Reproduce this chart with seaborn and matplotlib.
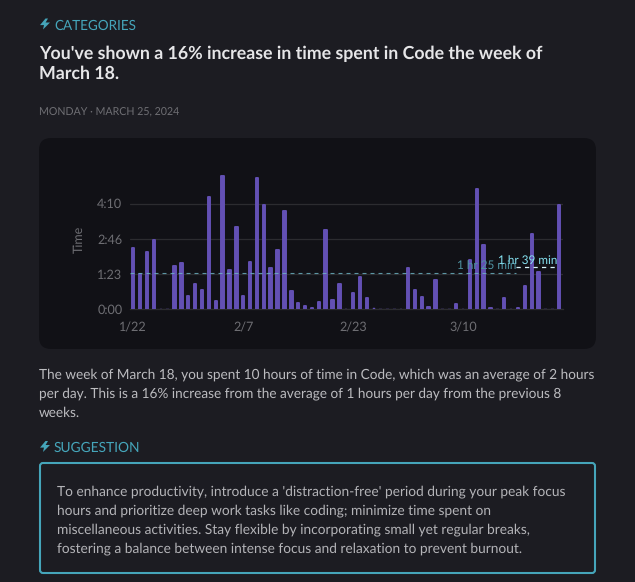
import matplotlib
matplotlib.use("Agg")
import matplotlib.pyplot as plt
import pandas as pd
import seaborn as sns
from matplotlib.patches import FancyBboxPatch, Polygon

# Daily minutes in Code, 1/22 through 3/24
minutes = [148, 85, 137, 167, 0, 0, 104, 111, 34, 62, 47, 269, 21, 317, 94, 196,
           32, 114, 312, 249, 99, 142, 235, 44, 16, 10, 4, 20, 189, 24, 62, 1,
           41, 79, 28, 2, 0, 1, 0, 0, 99, 47, 30, 6, 70, 0, 1, 15, 0, 118,
           286, 153, 5, 0, 29, 1, 4, 58, 179, 91, 0, 1, 250]
days = pd.date_range("2024-01-22", periods=len(minutes)).strftime("%-m/%-d").tolist()
date_labels = ["1/22", "2/7", "2/23", "3/10"]
y_ticks = [0, 83, 166, 250]
y_tick_labels = ["0:00", "1:23", "2:46", "4:10"]
avg_previous = 85
avg_current = 99
avg_previous_label = "1 hr 25 min"
avg_current_label = "1 hr 39 min"

eyebrow = "CATEGORIES"
headline = ["You've shown a 16% increase in time spent in Code the week of", "March 18."]
dateline = "MONDAY · MARCH 25, 2024"
body = ["The week of March 18, you spent 10 hours of time in Code, which was an average of 2 hours",
        "per day. This is a 16% increase from the average of 1 hours per day from the previous 8",
        "weeks."]
suggestion_title = "SUGGESTION"
suggestion = ["To enhance productivity, introduce a 'distraction-free' period during your peak focus",
              "hours and prioritize deep work tasks like coding; minimize time spent on",
              "miscellaneous activities. Stay flexible by incorporating small yet regular breaks,",
              "fostering a balance between intense focus and relaxation to prevent burnout."]

PAGE = "#1c1c22"
CARD = "#111116"
ACCENT = "#45a5ba"
MUTED = "#6e6e73"
BAR = "#6350b4"
W, H = 635, 582

sns.set_theme(style="dark")
plt.rcParams["font.family"] = ["Lato", "DejaVu Sans"]
plt.rcParams["text.hinting"] = "no_hinting"
plt.rcParams["text.hinting_factor"] = 8

fig = plt.figure(figsize=(W / 100, H / 100), dpi=100, facecolor=PAGE)

# Full-page layer measured in pixels, for the text and panels around the chart
page = fig.add_axes([0, 0, 1, 1], zorder=0)
page.set_xlim(0, W)
page.set_ylim(H, 0)
page.axis("off")


def px(size):
    return size * 0.72


def bolt(x, y, color=ACCENT):
    shape = [(5.5, 0), (0, 6.6), (4, 6.6), (3, 11), (10, 4), (5.6, 4), (8, 0)]
    page.add_patch(Polygon([(x + a, y + b) for a, b in shape], closed=True, fc=color, ec="none"))


bolt(40, 18.5)
page.text(54.5, 25, eyebrow, color=ACCENT, fontsize=px(13.5), va="center_baseline")
for y, line in zip((52, 72), headline):
    page.text(39, y, line, color="#e6e6e8", fontsize=px(17.7), fontweight="bold", va="center_baseline")
page.text(39, 111, dateline, color=MUTED, fontsize=px(10.6), va="center_baseline")

page.add_patch(FancyBboxPatch((47, 146), 541, 195, boxstyle="round,pad=8,rounding_size=12",
                              fc=CARD, ec="none"))

for y, line in zip((373.5, 392.5, 411.5), body):
    page.text(39, y, line, color="#bcbcc0", fontsize=px(13.63), va="center_baseline")

bolt(40, 441)
page.text(54, 447, suggestion_title, color=ACCENT, fontsize=px(13.75), va="center_baseline")
page.add_patch(FancyBboxPatch((43, 466), 549, 104, boxstyle="round,pad=3,rounding_size=3",
                              fc="none", ec=ACCENT, lw=1.5))
for y, line in zip((490.5, 509.5, 528.5, 547.5), suggestion):
    page.text(57, y, line, color="#b4b4b8", fontsize=px(13.8), va="center_baseline")

# Chart axes: 35 px per 83 minutes above the baseline at y=309
left, right, base = 130, 563, 309
y_max = 330
height = y_max * 35 / 83
ax = fig.add_axes([left / W, (H - base) / H, (right - left) / W, height / H], zorder=1)
ax.patch.set_alpha(0)

frame = pd.DataFrame({"day": days, "minutes": minutes})
sns.barplot(data=frame, x="day", y="minutes", color=BAR, saturation=1, width=0.35, ax=ax, zorder=3)

# Narrow bars with a thick round-joined edge give the rounded caps;
# the height is trimmed by half the edge width so the tops stay on their values
edge_minutes = 2.3
for patch, value in zip(ax.patches, minutes):
    patch.set_edgecolor(BAR)
    patch.set_joinstyle("round")
    patch.set_linewidth(1.4 if value > 3 else 0.3)
    if value > 3:
        patch.set_height(value - edge_minutes)

ax.set_xlim(-0.48, 62.55)
ax.set_ylim(0, y_max)
ax.set_yticks(y_ticks, y_tick_labels)
ax.set_xticks([days.index(d) for d in date_labels], date_labels)
ax.tick_params(axis="both", length=0, colors=MUTED, labelsize=px(12.6))
ax.tick_params(axis="x", pad=9.5)
ax.tick_params(axis="y", pad=5.5)
ax.set_xlabel("")
ax.set_ylabel("Time", color=MUTED, fontsize=px(12.5), labelpad=9)
ax.yaxis.grid(True, color="#2c2c30", lw=0.9, zorder=1)
ax.xaxis.grid(False)
sns.despine(ax=ax, left=True, bottom=True)
ax.spines["bottom"].set_visible(True)
ax.spines["bottom"].set_color("#2c2c30")
ax.spines["bottom"].set_linewidth(0.9)

# Dashed averages: previous weeks, then the current week
split = 55.66
ax.hlines(avg_previous, -0.48, split, color="#6fb8c8", lw=0.8, linestyles=(0, (3.6, 3.6)), alpha=0.8, zorder=4)
ax.hlines(avg_current, split, 61.7, color="#d5f4fa", lw=0.9, linestyles=(0, (3.4, 3.4)), zorder=4)
ax.text(51.4, avg_previous + 5, avg_previous_label, color="#4f94a3",
        fontsize=px(11.8), ha="center", va="bottom", zorder=5)
ax.text(57.4, avg_current + 4, avg_current_label, color="#86e3f2",
        fontsize=px(11.8), ha="center", va="bottom", zorder=5)

fig.savefig("out.png", dpi=100, facecolor=PAGE)
